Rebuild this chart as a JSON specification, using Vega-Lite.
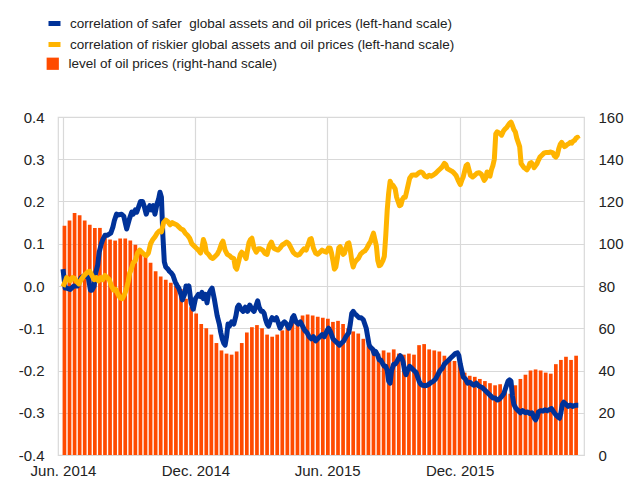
{
  "$schema": "https://vega.github.io/schema/vega-lite/v6.json",
  "width": 526,
  "height": 338,
  "autosize": {"type": "none"},
  "padding": {"left": 58, "top": 117, "right": 42, "bottom": 28},
  "config": {
    "font": "Arial",
    "view": {"stroke": "#d9d9d9", "strokeWidth": 1.2},
    "axis": {"labelFont": "Arial", "labelFontSize": 15, "labelColor": "#222222", "domain": false, "ticks": false, "tickSize": 0, "gridColor": "#d9d9d9", "gridWidth": 1.2, "title": null},
    "locale": {"number": {"decimal": ".", "thousands": ",", "grouping": [3], "currency": ["", ""], "minus": "-"}}
  },
  "datasets": {
    "oil": [
      {"d": "2014/06/03", "p": 108.5}, {"d": "2014/06/10", "p": 111}, {"d": "2014/06/17", "p": 114.5}, {"d": "2014/06/24", "p": 113.5},
      {"d": "2014/07/01", "p": 111}, {"d": "2014/07/08", "p": 109}, {"d": "2014/07/15", "p": 107.5}, {"d": "2014/07/22", "p": 107.5},
      {"d": "2014/07/29", "p": 104.5}, {"d": "2014/08/05", "p": 102}, {"d": "2014/08/12", "p": 101.5}, {"d": "2014/08/19", "p": 102.5},
      {"d": "2014/08/26", "p": 102.5}, {"d": "2014/09/02", "p": 101.5}, {"d": "2014/09/09", "p": 99.5}, {"d": "2014/09/16", "p": 97},
      {"d": "2014/09/23", "p": 94.5}, {"d": "2014/09/30", "p": 91}, {"d": "2014/10/07", "p": 87}, {"d": "2014/10/14", "p": 84.5},
      {"d": "2014/10/21", "p": 83}, {"d": "2014/10/28", "p": 81.5}, {"d": "2014/11/04", "p": 80}, {"d": "2014/11/11", "p": 78.5},
      {"d": "2014/11/18", "p": 74}, {"d": "2014/11/25", "p": 70}, {"d": "2014/12/02", "p": 67}, {"d": "2014/12/09", "p": 62},
      {"d": "2014/12/16", "p": 60}, {"d": "2014/12/23", "p": 57}, {"d": "2014/12/30", "p": 53}, {"d": "2015/01/06", "p": 49.5},
      {"d": "2015/01/13", "p": 48}, {"d": "2015/01/20", "p": 47.5}, {"d": "2015/01/27", "p": 49}, {"d": "2015/02/03", "p": 53},
      {"d": "2015/02/10", "p": 58}, {"d": "2015/02/17", "p": 60.5}, {"d": "2015/02/24", "p": 61.5}, {"d": "2015/03/03", "p": 60},
      {"d": "2015/03/10", "p": 57}, {"d": "2015/03/17", "p": 56}, {"d": "2015/03/24", "p": 57}, {"d": "2015/03/31", "p": 59},
      {"d": "2015/04/07", "p": 61.5}, {"d": "2015/04/14", "p": 63}, {"d": "2015/04/21", "p": 63.5}, {"d": "2015/04/28", "p": 66},
      {"d": "2015/05/05", "p": 66.5}, {"d": "2015/05/12", "p": 66}, {"d": "2015/05/19", "p": 65.5}, {"d": "2015/05/26", "p": 65},
      {"d": "2015/06/02", "p": 64.5}, {"d": "2015/06/09", "p": 63}, {"d": "2015/06/16", "p": 63.5}, {"d": "2015/06/23", "p": 62},
      {"d": "2015/06/30", "p": 60}, {"d": "2015/07/07", "p": 58.5}, {"d": "2015/07/14", "p": 57.5}, {"d": "2015/07/21", "p": 55},
      {"d": "2015/07/28", "p": 51.5}, {"d": "2015/08/04", "p": 49}, {"d": "2015/08/11", "p": 48}, {"d": "2015/08/18", "p": 49.5},
      {"d": "2015/08/25", "p": 48.5}, {"d": "2015/09/01", "p": 50}, {"d": "2015/09/08", "p": 48}, {"d": "2015/09/15", "p": 47.5},
      {"d": "2015/09/22", "p": 48}, {"d": "2015/09/29", "p": 47.5}, {"d": "2015/10/06", "p": 52}, {"d": "2015/10/13", "p": 52.5},
      {"d": "2015/10/20", "p": 50}, {"d": "2015/10/27", "p": 49.5}, {"d": "2015/11/03", "p": 49}, {"d": "2015/11/10", "p": 47},
      {"d": "2015/11/17", "p": 46}, {"d": "2015/11/24", "p": 44.5}, {"d": "2015/12/01", "p": 43}, {"d": "2015/12/08", "p": 39},
      {"d": "2015/12/15", "p": 37.5}, {"d": "2015/12/22", "p": 37}, {"d": "2015/12/29", "p": 36}, {"d": "2016/01/05", "p": 35},
      {"d": "2016/01/12", "p": 34}, {"d": "2016/01/19", "p": 33}, {"d": "2016/01/26", "p": 33.5}, {"d": "2016/02/02", "p": 31},
      {"d": "2016/02/09", "p": 29}, {"d": "2016/02/16", "p": 33}, {"d": "2016/02/23", "p": 36}, {"d": "2016/03/01", "p": 38},
      {"d": "2016/03/08", "p": 40}, {"d": "2016/03/15", "p": 40.5}, {"d": "2016/03/22", "p": 40}, {"d": "2016/03/29", "p": 39},
      {"d": "2016/04/05", "p": 38.5}, {"d": "2016/04/12", "p": 43}, {"d": "2016/04/19", "p": 45}, {"d": "2016/04/26", "p": 46.5},
      {"d": "2016/05/03", "p": 45}, {"d": "2016/05/10", "p": 47}
    ],
    "safer": [
      {"d": "2014/06/01", "v": 0.04}, {"d": "2014/06/04", "v": -0.005}, {"d": "2014/06/06", "v": -0.005}, {"d": "2014/06/11", "v": -0.008},
      {"d": "2014/06/16", "v": 0.0}, {"d": "2014/06/21", "v": 0.0}, {"d": "2014/06/26", "v": 0.02}, {"d": "2014/07/01", "v": 0.025},
      {"d": "2014/07/06", "v": 0.02}, {"d": "2014/07/09", "v": -0.01}, {"d": "2014/07/11", "v": -0.01}, {"d": "2014/07/14", "v": 0.0},
      {"d": "2014/07/16", "v": 0.03}, {"d": "2014/07/19", "v": 0.05}, {"d": "2014/07/21", "v": 0.08}, {"d": "2014/07/24", "v": 0.1},
      {"d": "2014/07/26", "v": 0.11}, {"d": "2014/07/29", "v": 0.12}, {"d": "2014/08/01", "v": 0.12}, {"d": "2014/08/06", "v": 0.125},
      {"d": "2014/08/09", "v": 0.14}, {"d": "2014/08/11", "v": 0.155}, {"d": "2014/08/14", "v": 0.17}, {"d": "2014/08/16", "v": 0.168},
      {"d": "2014/08/21", "v": 0.17}, {"d": "2014/08/24", "v": 0.165}, {"d": "2014/08/26", "v": 0.15}, {"d": "2014/08/28", "v": 0.135},
      {"d": "2014/09/01", "v": 0.16}, {"d": "2014/09/04", "v": 0.175}, {"d": "2014/09/06", "v": 0.17}, {"d": "2014/09/09", "v": 0.18},
      {"d": "2014/09/11", "v": 0.175}, {"d": "2014/09/14", "v": 0.19}, {"d": "2014/09/16", "v": 0.2}, {"d": "2014/09/19", "v": 0.2},
      {"d": "2014/09/21", "v": 0.19}, {"d": "2014/09/24", "v": 0.17}, {"d": "2014/09/26", "v": 0.18}, {"d": "2014/09/29", "v": 0.19},
      {"d": "2014/10/01", "v": 0.18}, {"d": "2014/10/04", "v": 0.19}, {"d": "2014/10/06", "v": 0.17}, {"d": "2014/10/09", "v": 0.195},
      {"d": "2014/10/11", "v": 0.205}, {"d": "2014/10/13", "v": 0.222}, {"d": "2014/10/15", "v": 0.21}, {"d": "2014/10/17", "v": 0.12},
      {"d": "2014/10/19", "v": 0.057}, {"d": "2014/10/21", "v": 0.045}, {"d": "2014/10/24", "v": 0.04}, {"d": "2014/10/26", "v": 0.035},
      {"d": "2014/10/29", "v": 0.03}, {"d": "2014/10/31", "v": 0.025}, {"d": "2014/11/03", "v": 0.01}, {"d": "2014/11/06", "v": 0.0},
      {"d": "2014/11/08", "v": -0.005}, {"d": "2014/11/11", "v": -0.02}, {"d": "2014/11/13", "v": -0.033}, {"d": "2014/11/16", "v": -0.02},
      {"d": "2014/11/18", "v": 0.0}, {"d": "2014/11/20", "v": -0.005}, {"d": "2014/11/22", "v": 0.0}, {"d": "2014/11/25", "v": -0.04},
      {"d": "2014/11/28", "v": -0.055}, {"d": "2014/12/01", "v": -0.03}, {"d": "2014/12/03", "v": -0.025}, {"d": "2014/12/05", "v": -0.02},
      {"d": "2014/12/08", "v": -0.025}, {"d": "2014/12/10", "v": -0.015}, {"d": "2014/12/12", "v": -0.03}, {"d": "2014/12/15", "v": -0.02},
      {"d": "2014/12/17", "v": -0.04}, {"d": "2014/12/19", "v": -0.02}, {"d": "2014/12/22", "v": -0.01}, {"d": "2014/12/24", "v": -0.005},
      {"d": "2014/12/27", "v": -0.03}, {"d": "2014/12/29", "v": -0.05}, {"d": "2014/12/31", "v": -0.07}, {"d": "2015/01/03", "v": -0.09},
      {"d": "2015/01/05", "v": -0.11}, {"d": "2015/01/07", "v": -0.125}, {"d": "2015/01/09", "v": -0.135}, {"d": "2015/01/11", "v": -0.14},
      {"d": "2015/01/13", "v": -0.12}, {"d": "2015/01/15", "v": -0.09}, {"d": "2015/01/17", "v": -0.095}, {"d": "2015/01/20", "v": -0.085},
      {"d": "2015/01/23", "v": -0.09}, {"d": "2015/01/26", "v": -0.07}, {"d": "2015/01/28", "v": -0.05}, {"d": "2015/01/30", "v": -0.045},
      {"d": "2015/02/02", "v": -0.055}, {"d": "2015/02/05", "v": -0.06}, {"d": "2015/02/08", "v": -0.05}, {"d": "2015/02/11", "v": -0.06},
      {"d": "2015/02/14", "v": -0.045}, {"d": "2015/02/17", "v": -0.055}, {"d": "2015/02/20", "v": -0.06}, {"d": "2015/02/23", "v": -0.045},
      {"d": "2015/02/25", "v": -0.035}, {"d": "2015/02/27", "v": -0.05}, {"d": "2015/03/02", "v": -0.06}, {"d": "2015/03/04", "v": -0.06},
      {"d": "2015/03/06", "v": -0.065}, {"d": "2015/03/08", "v": -0.08}, {"d": "2015/03/10", "v": -0.09}, {"d": "2015/03/12", "v": -0.095},
      {"d": "2015/03/14", "v": -0.085}, {"d": "2015/03/17", "v": -0.075}, {"d": "2015/03/20", "v": -0.08}, {"d": "2015/03/23", "v": -0.075},
      {"d": "2015/03/26", "v": -0.09}, {"d": "2015/03/28", "v": -0.1}, {"d": "2015/03/31", "v": -0.09}, {"d": "2015/04/03", "v": -0.085},
      {"d": "2015/04/06", "v": -0.09}, {"d": "2015/04/09", "v": -0.1}, {"d": "2015/04/12", "v": -0.09}, {"d": "2015/04/14", "v": -0.075},
      {"d": "2015/04/16", "v": -0.07}, {"d": "2015/04/19", "v": -0.085}, {"d": "2015/04/22", "v": -0.09}, {"d": "2015/04/25", "v": -0.085},
      {"d": "2015/04/28", "v": -0.095}, {"d": "2015/05/01", "v": -0.105}, {"d": "2015/05/04", "v": -0.11}, {"d": "2015/05/07", "v": -0.12},
      {"d": "2015/05/10", "v": -0.125}, {"d": "2015/05/13", "v": -0.12}, {"d": "2015/05/16", "v": -0.13}, {"d": "2015/05/19", "v": -0.125},
      {"d": "2015/05/22", "v": -0.12}, {"d": "2015/05/25", "v": -0.115}, {"d": "2015/05/28", "v": -0.12}, {"d": "2015/06/01", "v": -0.105},
      {"d": "2015/06/03", "v": -0.1}, {"d": "2015/06/06", "v": -0.11}, {"d": "2015/06/09", "v": -0.125}, {"d": "2015/06/12", "v": -0.13},
      {"d": "2015/06/15", "v": -0.135}, {"d": "2015/06/18", "v": -0.14}, {"d": "2015/06/21", "v": -0.135}, {"d": "2015/06/24", "v": -0.13},
      {"d": "2015/06/27", "v": -0.12}, {"d": "2015/06/29", "v": -0.115}, {"d": "2015/07/01", "v": -0.11}, {"d": "2015/07/03", "v": -0.09},
      {"d": "2015/07/05", "v": -0.065}, {"d": "2015/07/07", "v": -0.06}, {"d": "2015/07/09", "v": -0.065}, {"d": "2015/07/12", "v": -0.07},
      {"d": "2015/07/15", "v": -0.075}, {"d": "2015/07/18", "v": -0.075}, {"d": "2015/07/21", "v": -0.08}, {"d": "2015/07/23", "v": -0.09},
      {"d": "2015/07/25", "v": -0.1}, {"d": "2015/07/27", "v": -0.12}, {"d": "2015/07/29", "v": -0.14}, {"d": "2015/07/31", "v": -0.145},
      {"d": "2015/08/03", "v": -0.15}, {"d": "2015/08/05", "v": -0.16}, {"d": "2015/08/07", "v": -0.155}, {"d": "2015/08/10", "v": -0.165},
      {"d": "2015/08/12", "v": -0.175}, {"d": "2015/08/14", "v": -0.175}, {"d": "2015/08/17", "v": -0.185}, {"d": "2015/08/19", "v": -0.19},
      {"d": "2015/08/21", "v": -0.19}, {"d": "2015/08/23", "v": -0.2}, {"d": "2015/08/25", "v": -0.225}, {"d": "2015/08/27", "v": -0.23},
      {"d": "2015/08/29", "v": -0.2}, {"d": "2015/09/01", "v": -0.185}, {"d": "2015/09/03", "v": -0.185}, {"d": "2015/09/05", "v": -0.18},
      {"d": "2015/09/08", "v": -0.17}, {"d": "2015/09/10", "v": -0.165}, {"d": "2015/09/12", "v": -0.17}, {"d": "2015/09/14", "v": -0.18},
      {"d": "2015/09/16", "v": -0.2}, {"d": "2015/09/18", "v": -0.21}, {"d": "2015/09/20", "v": -0.2}, {"d": "2015/09/23", "v": -0.19},
      {"d": "2015/09/26", "v": -0.195}, {"d": "2015/09/29", "v": -0.2}, {"d": "2015/10/02", "v": -0.205}, {"d": "2015/10/04", "v": -0.215},
      {"d": "2015/10/06", "v": -0.225}, {"d": "2015/10/08", "v": -0.232}, {"d": "2015/10/11", "v": -0.235}, {"d": "2015/10/14", "v": -0.236},
      {"d": "2015/10/17", "v": -0.235}, {"d": "2015/10/20", "v": -0.232}, {"d": "2015/10/23", "v": -0.228}, {"d": "2015/10/26", "v": -0.225},
      {"d": "2015/10/29", "v": -0.22}, {"d": "2015/11/01", "v": -0.21}, {"d": "2015/11/04", "v": -0.2}, {"d": "2015/11/07", "v": -0.195},
      {"d": "2015/11/10", "v": -0.185}, {"d": "2015/11/13", "v": -0.18}, {"d": "2015/11/16", "v": -0.175}, {"d": "2015/11/19", "v": -0.17},
      {"d": "2015/11/22", "v": -0.165}, {"d": "2015/11/25", "v": -0.16}, {"d": "2015/11/28", "v": -0.158}, {"d": "2015/11/30", "v": -0.165},
      {"d": "2015/12/02", "v": -0.185}, {"d": "2015/12/04", "v": -0.2}, {"d": "2015/12/06", "v": -0.215}, {"d": "2015/12/09", "v": -0.22},
      {"d": "2015/12/12", "v": -0.23}, {"d": "2015/12/15", "v": -0.228}, {"d": "2015/12/18", "v": -0.232}, {"d": "2015/12/21", "v": -0.235},
      {"d": "2015/12/24", "v": -0.23}, {"d": "2015/12/27", "v": -0.236}, {"d": "2016/01/01", "v": -0.24}, {"d": "2016/01/04", "v": -0.245},
      {"d": "2016/01/07", "v": -0.25}, {"d": "2016/01/10", "v": -0.255}, {"d": "2016/01/13", "v": -0.26}, {"d": "2016/01/16", "v": -0.265},
      {"d": "2016/01/19", "v": -0.265}, {"d": "2016/01/22", "v": -0.27}, {"d": "2016/01/25", "v": -0.268}, {"d": "2016/01/28", "v": -0.262},
      {"d": "2016/01/31", "v": -0.255}, {"d": "2016/02/02", "v": -0.245}, {"d": "2016/02/04", "v": -0.235}, {"d": "2016/02/06", "v": -0.225},
      {"d": "2016/02/08", "v": -0.222}, {"d": "2016/02/10", "v": -0.225}, {"d": "2016/02/12", "v": -0.26}, {"d": "2016/02/14", "v": -0.28},
      {"d": "2016/02/17", "v": -0.29}, {"d": "2016/02/20", "v": -0.295}, {"d": "2016/02/23", "v": -0.3}, {"d": "2016/02/26", "v": -0.295},
      {"d": "2016/03/01", "v": -0.3}, {"d": "2016/03/04", "v": -0.298}, {"d": "2016/03/07", "v": -0.302}, {"d": "2016/03/10", "v": -0.3},
      {"d": "2016/03/13", "v": -0.312}, {"d": "2016/03/15", "v": -0.317}, {"d": "2016/03/17", "v": -0.31}, {"d": "2016/03/19", "v": -0.298},
      {"d": "2016/03/22", "v": -0.295}, {"d": "2016/03/25", "v": -0.296}, {"d": "2016/03/28", "v": -0.293}, {"d": "2016/03/31", "v": -0.295},
      {"d": "2016/04/03", "v": -0.293}, {"d": "2016/04/06", "v": -0.29}, {"d": "2016/04/09", "v": -0.298}, {"d": "2016/04/12", "v": -0.305},
      {"d": "2016/04/15", "v": -0.31}, {"d": "2016/04/17", "v": -0.313}, {"d": "2016/04/19", "v": -0.3}, {"d": "2016/04/21", "v": -0.28},
      {"d": "2016/04/23", "v": -0.275}, {"d": "2016/04/26", "v": -0.28}, {"d": "2016/04/29", "v": -0.285}, {"d": "2016/05/02", "v": -0.282},
      {"d": "2016/05/05", "v": -0.285}, {"d": "2016/05/08", "v": -0.283}, {"d": "2016/05/11", "v": -0.282}, {"d": "2016/05/13", "v": -0.282}
    ],
    "riskier": [
      {"d": "2014/06/01", "v": -0.002}, {"d": "2014/06/04", "v": 0.01}, {"d": "2014/06/06", "v": 0.02}, {"d": "2014/06/09", "v": 0.015},
      {"d": "2014/06/11", "v": 0.012}, {"d": "2014/06/14", "v": 0.02}, {"d": "2014/06/17", "v": 0.018}, {"d": "2014/06/20", "v": 0.01},
      {"d": "2014/06/23", "v": 0.005}, {"d": "2014/06/26", "v": 0.015}, {"d": "2014/06/29", "v": 0.022}, {"d": "2014/07/02", "v": 0.028},
      {"d": "2014/07/05", "v": 0.033}, {"d": "2014/07/08", "v": 0.035}, {"d": "2014/07/11", "v": 0.025}, {"d": "2014/07/14", "v": 0.015},
      {"d": "2014/07/17", "v": 0.02}, {"d": "2014/07/20", "v": 0.012}, {"d": "2014/07/23", "v": 0.02}, {"d": "2014/07/26", "v": 0.015},
      {"d": "2014/07/29", "v": 0.025}, {"d": "2014/08/01", "v": 0.02}, {"d": "2014/08/04", "v": 0.015}, {"d": "2014/08/07", "v": 0.0},
      {"d": "2014/08/10", "v": -0.01}, {"d": "2014/08/13", "v": -0.008}, {"d": "2014/08/16", "v": -0.02}, {"d": "2014/08/19", "v": -0.028},
      {"d": "2014/08/22", "v": -0.03}, {"d": "2014/08/25", "v": -0.02}, {"d": "2014/08/28", "v": -0.005}, {"d": "2014/08/30", "v": 0.01},
      {"d": "2014/09/01", "v": 0.03}, {"d": "2014/09/03", "v": 0.038}, {"d": "2014/09/06", "v": 0.055}, {"d": "2014/09/09", "v": 0.06},
      {"d": "2014/09/12", "v": 0.078}, {"d": "2014/09/15", "v": 0.085}, {"d": "2014/09/18", "v": 0.08}, {"d": "2014/09/21", "v": 0.075},
      {"d": "2014/09/24", "v": 0.072}, {"d": "2014/09/27", "v": 0.078}, {"d": "2014/09/30", "v": 0.1}, {"d": "2014/10/03", "v": 0.11},
      {"d": "2014/10/06", "v": 0.116}, {"d": "2014/10/09", "v": 0.125}, {"d": "2014/10/12", "v": 0.13}, {"d": "2014/10/15", "v": 0.128},
      {"d": "2014/10/18", "v": 0.15}, {"d": "2014/10/21", "v": 0.156}, {"d": "2014/10/24", "v": 0.152}, {"d": "2014/10/27", "v": 0.145},
      {"d": "2014/10/30", "v": 0.15}, {"d": "2014/11/02", "v": 0.147}, {"d": "2014/11/05", "v": 0.145}, {"d": "2014/11/08", "v": 0.14},
      {"d": "2014/11/11", "v": 0.135}, {"d": "2014/11/14", "v": 0.133}, {"d": "2014/11/17", "v": 0.125}, {"d": "2014/11/20", "v": 0.12},
      {"d": "2014/11/23", "v": 0.113}, {"d": "2014/11/26", "v": 0.1}, {"d": "2014/11/29", "v": 0.095}, {"d": "2014/12/02", "v": 0.09},
      {"d": "2014/12/05", "v": 0.085}, {"d": "2014/12/08", "v": 0.078}, {"d": "2014/12/10", "v": 0.09}, {"d": "2014/12/12", "v": 0.11},
      {"d": "2014/12/14", "v": 0.1}, {"d": "2014/12/16", "v": 0.08}, {"d": "2014/12/19", "v": 0.075}, {"d": "2014/12/22", "v": 0.068},
      {"d": "2014/12/25", "v": 0.065}, {"d": "2014/12/28", "v": 0.07}, {"d": "2014/12/31", "v": 0.075}, {"d": "2015/01/03", "v": 0.085},
      {"d": "2015/01/06", "v": 0.1}, {"d": "2015/01/08", "v": 0.106}, {"d": "2015/01/11", "v": 0.085}, {"d": "2015/01/14", "v": 0.075},
      {"d": "2015/01/17", "v": 0.072}, {"d": "2015/01/20", "v": 0.067}, {"d": "2015/01/23", "v": 0.065}, {"d": "2015/01/25", "v": 0.045},
      {"d": "2015/01/27", "v": 0.04}, {"d": "2015/01/30", "v": 0.06}, {"d": "2015/02/01", "v": 0.075}, {"d": "2015/02/03", "v": 0.08},
      {"d": "2015/02/06", "v": 0.075}, {"d": "2015/02/09", "v": 0.065}, {"d": "2015/02/11", "v": 0.085}, {"d": "2015/02/13", "v": 0.103},
      {"d": "2015/02/15", "v": 0.11}, {"d": "2015/02/17", "v": 0.113}, {"d": "2015/02/20", "v": 0.09}, {"d": "2015/02/23", "v": 0.08},
      {"d": "2015/02/26", "v": 0.088}, {"d": "2015/03/01", "v": 0.088}, {"d": "2015/03/04", "v": 0.085}, {"d": "2015/03/07", "v": 0.077},
      {"d": "2015/03/10", "v": 0.075}, {"d": "2015/03/13", "v": 0.095}, {"d": "2015/03/16", "v": 0.104}, {"d": "2015/03/19", "v": 0.09},
      {"d": "2015/03/22", "v": 0.087}, {"d": "2015/03/25", "v": 0.085}, {"d": "2015/03/28", "v": 0.09}, {"d": "2015/03/31", "v": 0.097},
      {"d": "2015/04/03", "v": 0.1}, {"d": "2015/04/06", "v": 0.104}, {"d": "2015/04/09", "v": 0.1}, {"d": "2015/04/12", "v": 0.09},
      {"d": "2015/04/15", "v": 0.08}, {"d": "2015/04/18", "v": 0.075}, {"d": "2015/04/21", "v": 0.073}, {"d": "2015/04/24", "v": 0.075},
      {"d": "2015/04/27", "v": 0.082}, {"d": "2015/04/30", "v": 0.088}, {"d": "2015/05/03", "v": 0.085}, {"d": "2015/05/06", "v": 0.1},
      {"d": "2015/05/08", "v": 0.11}, {"d": "2015/05/10", "v": 0.112}, {"d": "2015/05/13", "v": 0.09}, {"d": "2015/05/16", "v": 0.078},
      {"d": "2015/05/19", "v": 0.075}, {"d": "2015/05/22", "v": 0.08}, {"d": "2015/05/25", "v": 0.085}, {"d": "2015/05/28", "v": 0.082},
      {"d": "2015/05/31", "v": 0.08}, {"d": "2015/06/03", "v": 0.09}, {"d": "2015/06/05", "v": 0.09}, {"d": "2015/06/07", "v": 0.078},
      {"d": "2015/06/09", "v": 0.06}, {"d": "2015/06/11", "v": 0.04}, {"d": "2015/06/13", "v": 0.045}, {"d": "2015/06/15", "v": 0.065},
      {"d": "2015/06/17", "v": 0.09}, {"d": "2015/06/19", "v": 0.093}, {"d": "2015/06/21", "v": 0.085}, {"d": "2015/06/23", "v": 0.075},
      {"d": "2015/06/25", "v": 0.078}, {"d": "2015/06/27", "v": 0.09}, {"d": "2015/06/29", "v": 0.1}, {"d": "2015/07/01", "v": 0.102},
      {"d": "2015/07/03", "v": 0.085}, {"d": "2015/07/05", "v": 0.06}, {"d": "2015/07/07", "v": 0.045}, {"d": "2015/07/09", "v": 0.055},
      {"d": "2015/07/11", "v": 0.06}, {"d": "2015/07/14", "v": 0.065}, {"d": "2015/07/17", "v": 0.075}, {"d": "2015/07/20", "v": 0.08},
      {"d": "2015/07/23", "v": 0.083}, {"d": "2015/07/26", "v": 0.09}, {"d": "2015/07/29", "v": 0.1}, {"d": "2015/07/31", "v": 0.105},
      {"d": "2015/08/02", "v": 0.115}, {"d": "2015/08/04", "v": 0.125}, {"d": "2015/08/06", "v": 0.11}, {"d": "2015/08/08", "v": 0.095},
      {"d": "2015/08/10", "v": 0.06}, {"d": "2015/08/12", "v": 0.048}, {"d": "2015/08/14", "v": 0.05}, {"d": "2015/08/17", "v": 0.06},
      {"d": "2015/08/19", "v": 0.07}, {"d": "2015/08/21", "v": 0.12}, {"d": "2015/08/23", "v": 0.18}, {"d": "2015/08/25", "v": 0.22},
      {"d": "2015/08/27", "v": 0.248}, {"d": "2015/08/29", "v": 0.24}, {"d": "2015/08/31", "v": 0.238}, {"d": "2015/09/03", "v": 0.23},
      {"d": "2015/09/05", "v": 0.21}, {"d": "2015/09/07", "v": 0.2}, {"d": "2015/09/09", "v": 0.19}, {"d": "2015/09/11", "v": 0.192},
      {"d": "2015/09/13", "v": 0.205}, {"d": "2015/09/15", "v": 0.21}, {"d": "2015/09/17", "v": 0.21}, {"d": "2015/09/19", "v": 0.225},
      {"d": "2015/09/21", "v": 0.24}, {"d": "2015/09/23", "v": 0.255}, {"d": "2015/09/26", "v": 0.262}, {"d": "2015/09/29", "v": 0.263},
      {"d": "2015/10/02", "v": 0.262}, {"d": "2015/10/05", "v": 0.267}, {"d": "2015/10/08", "v": 0.27}, {"d": "2015/10/11", "v": 0.268},
      {"d": "2015/10/14", "v": 0.26}, {"d": "2015/10/17", "v": 0.258}, {"d": "2015/10/20", "v": 0.262}, {"d": "2015/10/23", "v": 0.26},
      {"d": "2015/10/26", "v": 0.263}, {"d": "2015/10/29", "v": 0.267}, {"d": "2015/11/01", "v": 0.272}, {"d": "2015/11/04", "v": 0.277},
      {"d": "2015/11/07", "v": 0.282}, {"d": "2015/11/10", "v": 0.29}, {"d": "2015/11/12", "v": 0.287}, {"d": "2015/11/14", "v": 0.278},
      {"d": "2015/11/17", "v": 0.275}, {"d": "2015/11/20", "v": 0.272}, {"d": "2015/11/23", "v": 0.268}, {"d": "2015/11/26", "v": 0.262},
      {"d": "2015/11/29", "v": 0.25}, {"d": "2015/12/02", "v": 0.24}, {"d": "2015/12/04", "v": 0.25}, {"d": "2015/12/06", "v": 0.258},
      {"d": "2015/12/08", "v": 0.272}, {"d": "2015/12/10", "v": 0.285}, {"d": "2015/12/12", "v": 0.288}, {"d": "2015/12/14", "v": 0.275},
      {"d": "2015/12/16", "v": 0.262}, {"d": "2015/12/19", "v": 0.258}, {"d": "2015/12/22", "v": 0.262}, {"d": "2015/12/25", "v": 0.267},
      {"d": "2015/12/28", "v": 0.268}, {"d": "2015/12/31", "v": 0.265}, {"d": "2016/01/02", "v": 0.258}, {"d": "2016/01/04", "v": 0.25},
      {"d": "2016/01/06", "v": 0.255}, {"d": "2016/01/08", "v": 0.27}, {"d": "2016/01/10", "v": 0.262}, {"d": "2016/01/12", "v": 0.26},
      {"d": "2016/01/14", "v": 0.275}, {"d": "2016/01/16", "v": 0.285}, {"d": "2016/01/18", "v": 0.3}, {"d": "2016/01/20", "v": 0.36},
      {"d": "2016/01/22", "v": 0.365}, {"d": "2016/01/25", "v": 0.362}, {"d": "2016/01/28", "v": 0.357}, {"d": "2016/01/31", "v": 0.368},
      {"d": "2016/02/02", "v": 0.372}, {"d": "2016/02/04", "v": 0.375}, {"d": "2016/02/06", "v": 0.38}, {"d": "2016/02/08", "v": 0.385},
      {"d": "2016/02/10", "v": 0.388}, {"d": "2016/02/12", "v": 0.38}, {"d": "2016/02/14", "v": 0.37}, {"d": "2016/02/16", "v": 0.365},
      {"d": "2016/02/18", "v": 0.35}, {"d": "2016/02/20", "v": 0.34}, {"d": "2016/02/22", "v": 0.33}, {"d": "2016/02/24", "v": 0.29},
      {"d": "2016/02/26", "v": 0.285}, {"d": "2016/02/28", "v": 0.28}, {"d": "2016/03/01", "v": 0.278}, {"d": "2016/03/03", "v": 0.275},
      {"d": "2016/03/05", "v": 0.28}, {"d": "2016/03/07", "v": 0.29}, {"d": "2016/03/09", "v": 0.292}, {"d": "2016/03/11", "v": 0.288},
      {"d": "2016/03/13", "v": 0.28}, {"d": "2016/03/15", "v": 0.285}, {"d": "2016/03/17", "v": 0.29}, {"d": "2016/03/19", "v": 0.298},
      {"d": "2016/03/21", "v": 0.305}, {"d": "2016/03/24", "v": 0.31}, {"d": "2016/03/27", "v": 0.315}, {"d": "2016/03/30", "v": 0.316},
      {"d": "2016/04/02", "v": 0.316}, {"d": "2016/04/05", "v": 0.317}, {"d": "2016/04/08", "v": 0.315}, {"d": "2016/04/10", "v": 0.308},
      {"d": "2016/04/12", "v": 0.305}, {"d": "2016/04/14", "v": 0.31}, {"d": "2016/04/16", "v": 0.325}, {"d": "2016/04/18", "v": 0.335},
      {"d": "2016/04/20", "v": 0.34}, {"d": "2016/04/22", "v": 0.335}, {"d": "2016/04/24", "v": 0.33}, {"d": "2016/04/26", "v": 0.332},
      {"d": "2016/04/28", "v": 0.335}, {"d": "2016/04/30", "v": 0.337}, {"d": "2016/05/02", "v": 0.34}, {"d": "2016/05/04", "v": 0.338},
      {"d": "2016/05/06", "v": 0.343}, {"d": "2016/05/08", "v": 0.345}, {"d": "2016/05/10", "v": 0.35}, {"d": "2016/05/12", "v": 0.352},
      {"d": "2016/05/13", "v": 0.348}
    ]
  },
  "layer": [
    {
      "data": {"name": "oil"},
      "mark": {"type": "bar", "size": 3.7, "clip": true},
      "encoding": {
        "x": {
          "field": "d", "type": "temporal",
          "scale": {"domain": [{"year": 2014, "month": 6, "date": 1}, {"year": 2016, "month": 5, "date": 14}], "nice": false},
          "axis": {
            "values": [{"year": 2014, "month": 6, "date": 1}, {"year": 2014, "month": 12, "date": 1}, {"year": 2015, "month": 6, "date": 1}, {"year": 2015, "month": 12, "date": 1}],
            "format": "%b. %Y", "labelPadding": 8, "grid": true, "labelFlush": false, "labelAlign": "center", "labelOverlap": false, "labelBound": false
          }
        },
        "y": {
          "field": "p", "type": "quantitative",
          "scale": {"domain": [0, 160], "nice": false},
          "axis": {"orient": "right", "values": [0, 20, 40, 60, 80, 100, 120, 140, 160], "grid": false, "labelPadding": 14}
        },
        "fill": {
          "datum": "level of oil prices (right-hand scale)", "type": "nominal",
          "scale": {"range": ["#FF4B00"]},
          "legend": {"orient": "none", "legendX": -12, "legendY": -60, "title": null, "padding": 0, "symbolType": "square", "symbolSize": 150, "symbolStrokeWidth": 0, "labelFont": "Arial", "labelFontSize": 13.5, "labelColor": "#222222", "labelOffset": 9, "labelLimit": 600}
        }
      }
    },
    {
      "layer": [
        {
          "data": {"name": "safer"},
          "mark": {"type": "line", "strokeWidth": 5, "strokeJoin": "round", "clip": true},
          "encoding": {
            "x": {"field": "d", "type": "temporal"},
            "y": {
              "field": "v", "type": "quantitative",
              "scale": {"domain": [-0.4, 0.4], "nice": false},
              "axis": {"orient": "left", "values": [-0.4, -0.3, -0.2, -0.1, 0, 0.1, 0.2, 0.3, 0.4], "format": ".1f", "grid": true, "labelPadding": 14}
            },
            "stroke": {
              "datum": "correlation of safer\u00a0 global assets and oil prices (left-hand scale)", "type": "nominal",
              "scale": {"domain": ["correlation of safer\u00a0 global assets and oil prices (left-hand scale)", "correlation of riskier global assets and oil prices (left-hand scale)"], "range": ["#003299", "#FFB400"]},
              "legend": {"orient": "none", "legendX": -12, "legendY": -102, "title": null, "padding": 0, "symbolType": "stroke", "symbolStrokeWidth": 5, "symbolSize": 144, "labelFont": "Arial", "labelFontSize": 13.5, "labelColor": "#222222", "labelOffset": 7, "rowPadding": 0, "labelLimit": 600}
            }
          }
        },
        {
          "data": {"name": "riskier"},
          "mark": {"type": "line", "strokeWidth": 5, "strokeJoin": "round", "clip": true},
          "encoding": {
            "x": {"field": "d", "type": "temporal"},
            "y": {"field": "v", "type": "quantitative"},
            "stroke": {"datum": "correlation of riskier global assets and oil prices (left-hand scale)", "type": "nominal"}
          }
        }
      ]
    }
  ],
  "resolve": {"scale": {"y": "independent"}}
}
